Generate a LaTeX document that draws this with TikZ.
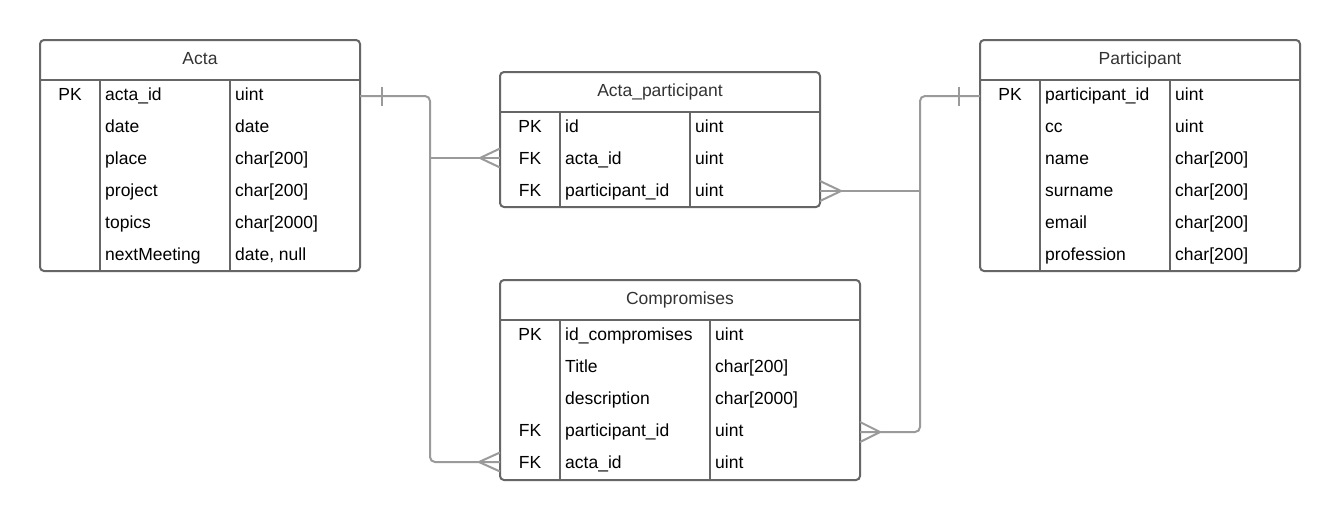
\documentclass[tikz,border=0pt]{standalone}
\usepackage{fontspec}
\setmainfont{Liberation Sans}
\definecolor{bordercol}{HTML}{666666}
\definecolor{conncol}{HTML}{9A9A9A}
\definecolor{hdrtext}{HTML}{333333}
\newcommand\tblfont{\fontsize{17.5}{20}\selectfont}
\tikzset{
  tbl/.style={draw=bordercol, line width=2pt, rounded corners=4pt, fill=white, inner sep=0pt, outer sep=0pt, anchor=north west},
  sepline/.style={draw=bordercol, line width=2pt},
  hdr/.style={anchor=base, text=hdrtext, font=\tblfont, inner sep=0pt},
  cell/.style={anchor=base west, text=black, font=\tblfont, inner sep=0pt},
  keycell/.style={anchor=base, text=black, font=\tblfont, inner sep=0pt},
  conn/.style={draw=conncol, line width=2pt, rounded corners=5pt},
  crow/.style={draw=conncol, line width=2pt},
}
% name, left, top, width, height, col1 x, col2 x, title
\newcommand\ertbox[8]{%
  \node[tbl, minimum width=#4pt, minimum height=#5pt] (#1) at (#2,#3) {};
  \node[hdr] (#1-title) at (#2+#4/2,#3+24) {#8};
  \draw[sepline] (#2,#3+40) -- (#2+#4,#3+40);
  \draw[sepline] (#6,#3+40) -- (#6,#3+#5);
  \draw[sepline] (#7,#3+40) -- (#7,#3+#5);
}
% name, baseline y, key x, key, field x, field, type x, type
\newcommand\ertrow[8]{%
  \node[keycell] (#1-k) at (#3,#2) {#4};
  \node[cell] (#1-f) at (#5,#2) {#6};
  \node[cell] (#1-t) at (#7,#2) {#8};
}
\begin{document}
\begin{tikzpicture}[x=1pt,y=-1pt]
\useasboundingbox[fill=white] (0,0) rectangle (1340,520);

% Acta
\ertbox{acta}{40}{40}{320}{231}{100}{230}{Acta}
\ertrow{acta1}{100.5}{70}{PK}{105}{acta\_id}{235}{uint}
\ertrow{acta2}{132.5}{70}{}{105}{date}{235}{date}
\ertrow{acta3}{164.5}{70}{}{105}{place}{235}{char[200]}
\ertrow{acta4}{196.5}{70}{}{105}{project}{235}{char[200]}
\ertrow{acta5}{228.5}{70}{}{105}{topics}{235}{char[2000]}
\ertrow{acta6}{260.5}{70}{}{105}{nextMeeting}{235}{date, null}

% Acta_participant
\ertbox{ap}{500}{72}{320}{135}{560}{690}{Acta\_participant}
\ertrow{ap1}{132.5}{530}{PK}{565}{id}{695}{uint}
\ertrow{ap2}{164.5}{530}{FK}{565}{acta\_id}{695}{uint}
\ertrow{ap3}{196.5}{530}{FK}{565}{participant\_id}{695}{uint}

% Participant
\ertbox{par}{980}{40}{320}{231}{1040}{1170}{Participant}
\ertrow{par1}{100.5}{1010}{PK}{1045}{participant\_id}{1175}{uint}
\ertrow{par2}{132.5}{1010}{}{1045}{cc}{1175}{uint}
\ertrow{par3}{164.5}{1010}{}{1045}{name}{1175}{char[200]}
\ertrow{par4}{196.5}{1010}{}{1045}{surname}{1175}{char[200]}
\ertrow{par5}{228.5}{1010}{}{1045}{email}{1175}{char[200]}
\ertrow{par6}{260.5}{1010}{}{1045}{profession}{1175}{char[200]}

% Compromises
\ertbox{cmp}{500}{280}{360}{200}{560}{710}{Compromises}
\ertrow{cmp1}{340.5}{530}{PK}{565}{id\_compromises}{715}{uint}
\ertrow{cmp2}{372.5}{530}{}{565}{Title}{715}{char[200]}
\ertrow{cmp3}{404.5}{530}{}{565}{description}{715}{char[2000]}
\ertrow{cmp4}{436.5}{530}{FK}{565}{participant\_id}{715}{uint}
\ertrow{cmp5}{468.5}{530}{FK}{565}{acta\_id}{715}{uint}

% connector end points
\path (acta.north east) ++(0,56) coordinate (aOut);
\path (ap.north west) ++(0,86) coordinate (apIn1);
\path (cmp.north west) ++(0,182) coordinate (cmpIn2);
\path (par.north west) ++(0,56) coordinate (pOut);
\path (ap.north east) ++(0,119) coordinate (apIn2);
\path (cmp.north east) ++(0,152) coordinate (cmpIn1);
\coordinate (aBus) at (430,158);
\coordinate (pBus) at (920,191);

% Acta relations
\draw[conn] (aOut) -- ++(70,0) |- (cmpIn2);
\draw[conn] (aBus) -- (apIn1);
\draw[crow] (aOut) ++(22,-9.5) -- ++(0,19);
\draw[crow] (apIn1) ++(-20,0) -- ++(20,-9.5) ++(-20,9.5) -- ++(20,9.5);
\draw[crow] (cmpIn2) ++(-21,0) -- ++(21,-9.5) ++(-21,9.5) -- ++(21,9.5);

% Participant relations
\draw[conn] (pOut) -- ++(-60,0) |- (cmpIn1);
\draw[conn] (pBus) -- (apIn2);
\draw[crow] (pOut) ++(-21,-9.5) -- ++(0,19);
\draw[crow] (apIn2) ++(21,0) -- ++(-21,-10) ++(21,10) -- ++(-21,10);
\draw[crow] (cmpIn1) ++(20,0) -- ++(-20,-10) ++(20,10) -- ++(-20,10);
\end{tikzpicture}
\end{document}
